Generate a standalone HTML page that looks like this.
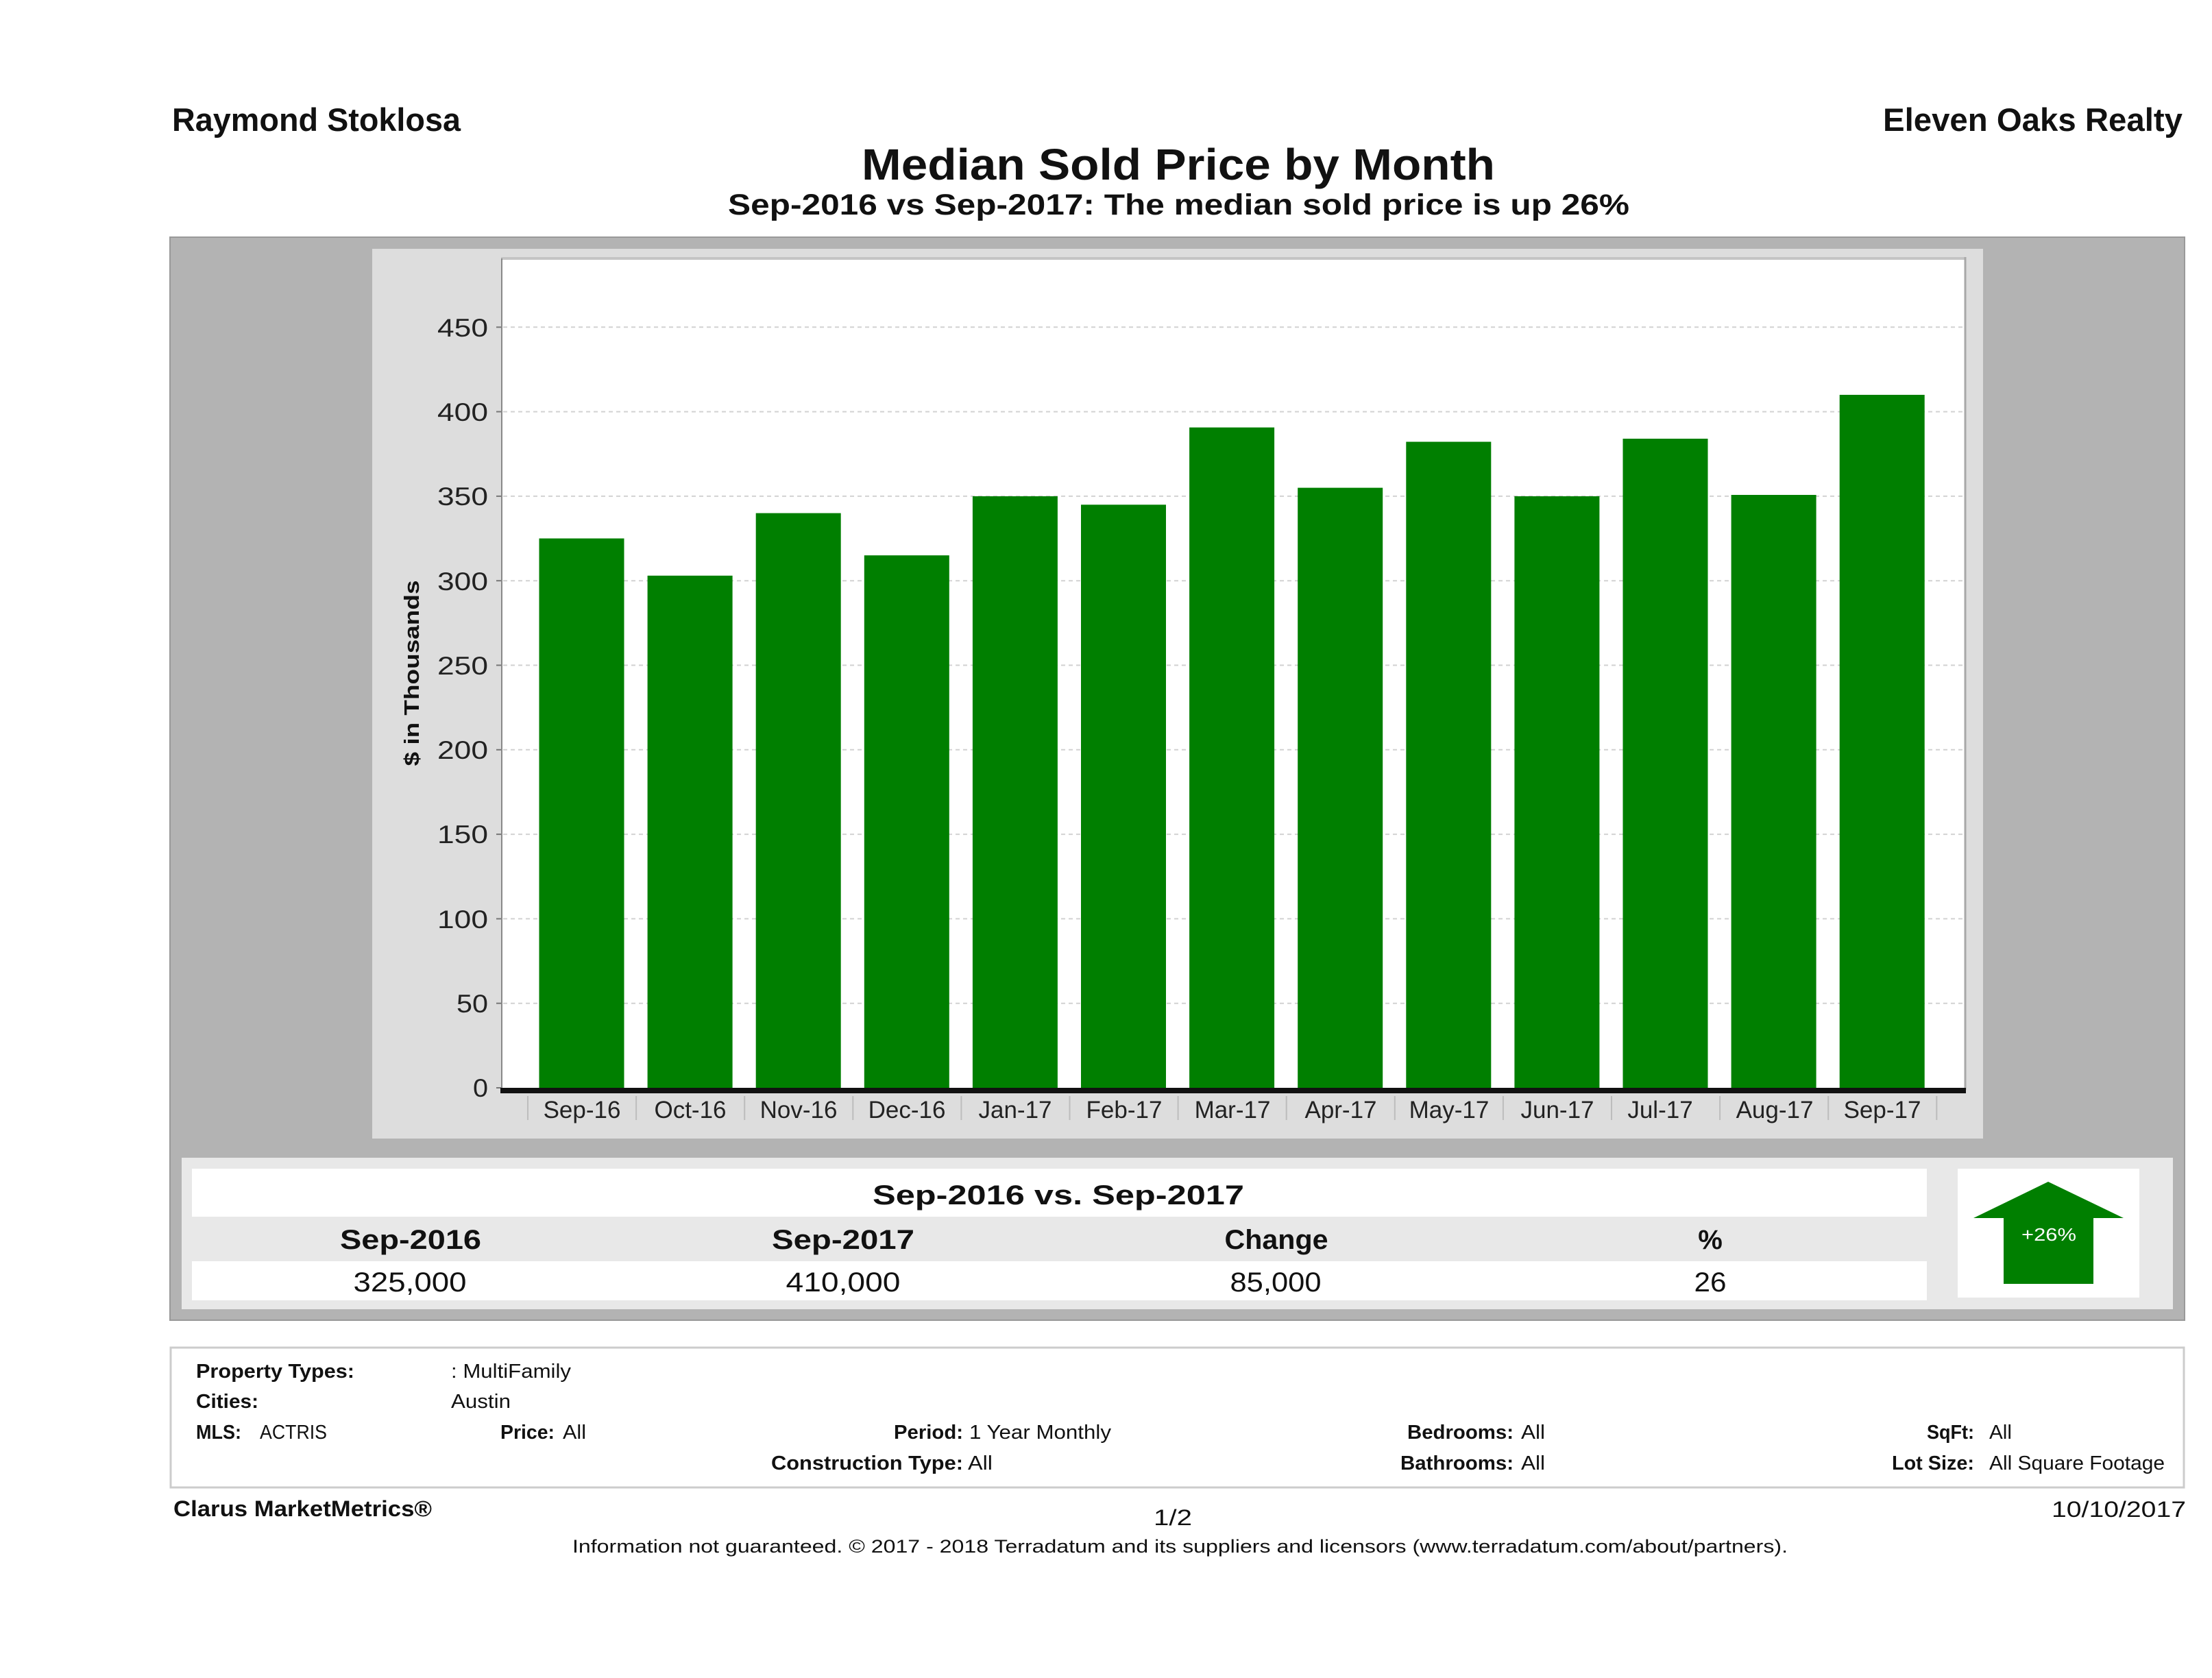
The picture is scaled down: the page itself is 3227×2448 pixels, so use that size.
<!DOCTYPE html>
<html>
<head>
<meta charset="utf-8">
<style>
html,body{margin:0;padding:0;background:#fff;}
svg{display:block;}
text{font-family:"Liberation Sans",Arial,sans-serif;fill:#111;}
.b{font-weight:bold;}
</style>
</head>
<body>
<svg width="3227" height="2448" viewBox="0 0 3227 2448" xmlns="http://www.w3.org/2000/svg">
<rect x="0" y="0" width="3227" height="2448" fill="#fff"/>

<!-- Header -->
<text class="b" x="251" y="191" font-size="47" textLength="421" lengthAdjust="spacingAndGlyphs">Raymond Stoklosa</text>
<text class="b" x="2747" y="191" font-size="47" textLength="437" lengthAdjust="spacingAndGlyphs">Eleven Oaks Realty</text>
<text class="b" x="1257" y="262" font-size="64" textLength="924" lengthAdjust="spacingAndGlyphs">Median Sold Price by Month</text>
<text class="b" x="1062" y="313" font-size="43" textLength="1315" lengthAdjust="spacingAndGlyphs">Sep-2016 vs Sep-2017: The median sold price is up 26%</text>

<!-- Outer gray panel -->
<rect x="248" y="346" width="2939" height="1580" fill="#b3b3b3" stroke="#999" stroke-width="2"/>
<!-- Chart panel -->
<rect x="543" y="363" width="2350" height="1298" fill="#dddddd"/>
<!-- Plot area -->
<rect x="731" y="377" width="2137" height="1210" fill="#ffffff"/>
<line x1="731" y1="377" x2="2868" y2="377" stroke="#c4c4c4" stroke-width="4"/>
<line x1="2867" y1="375" x2="2867" y2="1590" stroke="#a8a8a8" stroke-width="3"/>
<line x1="732" y1="377" x2="732" y2="1590" stroke="#888" stroke-width="2"/>

<!-- Gridlines -->
<g stroke="#d2d2d2" stroke-width="2" stroke-dasharray="6 5">
<line x1="734" y1="1463.7" x2="2865" y2="1463.7"/>
<line x1="734" y1="1340.4" x2="2865" y2="1340.4"/>
<line x1="734" y1="1217.1" x2="2865" y2="1217.1"/>
<line x1="734" y1="1093.8" x2="2865" y2="1093.8"/>
<line x1="734" y1="970.5" x2="2865" y2="970.5"/>
<line x1="734" y1="847.2" x2="2865" y2="847.2"/>
<line x1="734" y1="723.9" x2="2865" y2="723.9"/>
<line x1="734" y1="600.6" x2="2865" y2="600.6"/>
<line x1="734" y1="477.3" x2="2865" y2="477.3"/>
</g>
<!-- Y ticks -->
<g stroke="#777" stroke-width="2">
<line x1="724" y1="1587" x2="731" y2="1587"/>
<line x1="724" y1="1463.7" x2="731" y2="1463.7"/>
<line x1="724" y1="1340.4" x2="731" y2="1340.4"/>
<line x1="724" y1="1217.1" x2="731" y2="1217.1"/>
<line x1="724" y1="1093.8" x2="731" y2="1093.8"/>
<line x1="724" y1="970.5" x2="731" y2="970.5"/>
<line x1="724" y1="847.2" x2="731" y2="847.2"/>
<line x1="724" y1="723.9" x2="731" y2="723.9"/>
<line x1="724" y1="600.6" x2="731" y2="600.6"/>
<line x1="724" y1="477.3" x2="731" y2="477.3"/>
</g>
<!-- Y labels -->
<g font-size="37" text-anchor="end" style="fill:#222">
<text x="712" y="1600" textLength="22" lengthAdjust="spacingAndGlyphs" style="fill:#222">0</text>
<text x="712" y="1477" textLength="46" lengthAdjust="spacingAndGlyphs" style="fill:#222">50</text>
<text x="712" y="1354" textLength="74" lengthAdjust="spacingAndGlyphs" style="fill:#222">100</text>
<text x="712" y="1230" textLength="74" lengthAdjust="spacingAndGlyphs" style="fill:#222">150</text>
<text x="712" y="1107" textLength="74" lengthAdjust="spacingAndGlyphs" style="fill:#222">200</text>
<text x="712" y="984" textLength="74" lengthAdjust="spacingAndGlyphs" style="fill:#222">250</text>
<text x="712" y="861" textLength="74" lengthAdjust="spacingAndGlyphs" style="fill:#222">300</text>
<text x="712" y="737" textLength="74" lengthAdjust="spacingAndGlyphs" style="fill:#222">350</text>
<text x="712" y="614" textLength="74" lengthAdjust="spacingAndGlyphs" style="fill:#222">400</text>
<text x="712" y="491" textLength="74" lengthAdjust="spacingAndGlyphs" style="fill:#222">450</text>
</g>
<!-- Y axis title -->
<text class="b" transform="translate(611,982) rotate(-90)" text-anchor="middle" font-size="31" textLength="271" lengthAdjust="spacingAndGlyphs">$ in Thousands</text>

<!-- Bars -->
<g fill="#007f00">
<rect x="786.5" y="785.5" width="124" height="801.5"/>
<rect x="944.6" y="839.8" width="124" height="747.2"/>
<rect x="1102.7" y="748.6" width="124" height="838.4"/>
<rect x="1260.8" y="810.2" width="124" height="776.8"/>
<rect x="1418.9" y="724.0" width="124" height="863.0"/>
<rect x="1577.0" y="736.3" width="124" height="850.7"/>
<rect x="1735.1" y="623.6" width="124" height="963.4"/>
<rect x="1893.2" y="711.6" width="124" height="875.4"/>
<rect x="2051.3" y="644.5" width="124" height="942.5"/>
<rect x="2209.4" y="724.0" width="124" height="863.0"/>
<rect x="2367.5" y="640.0" width="124" height="947.0"/>
<rect x="2525.6" y="722.0" width="124" height="865.0"/>
<rect x="2683.7" y="576.0" width="124" height="1011.0"/>
</g>

<!-- X axis -->
<rect x="730" y="1587" width="2138" height="8" fill="#111"/>
<g stroke="#bdbdbd" stroke-width="2">
<line x1="770" y1="1599" x2="770" y2="1634"/>
<line x1="928.1" y1="1599" x2="928.1" y2="1634"/>
<line x1="1086.2" y1="1599" x2="1086.2" y2="1634"/>
<line x1="1244.3" y1="1599" x2="1244.3" y2="1634"/>
<line x1="1402.4" y1="1599" x2="1402.4" y2="1634"/>
<line x1="1560.5" y1="1599" x2="1560.5" y2="1634"/>
<line x1="1718.6" y1="1599" x2="1718.6" y2="1634"/>
<line x1="1876.7" y1="1599" x2="1876.7" y2="1634"/>
<line x1="2034.8" y1="1599" x2="2034.8" y2="1634"/>
<line x1="2192.9" y1="1599" x2="2192.9" y2="1634"/>
<line x1="2351" y1="1599" x2="2351" y2="1634"/>
<line x1="2509.1" y1="1599" x2="2509.1" y2="1634"/>
<line x1="2667.2" y1="1599" x2="2667.2" y2="1634"/>
<line x1="2825.3" y1="1599" x2="2825.3" y2="1634"/>
</g>
<g font-size="35" text-anchor="middle">
<text x="849" y="1631" style="fill:#222">Sep-16</text>
<text x="1007" y="1631" style="fill:#222">Oct-16</text>
<text x="1165" y="1631" style="fill:#222">Nov-16</text>
<text x="1323" y="1631" style="fill:#222">Dec-16</text>
<text x="1481" y="1631" style="fill:#222">Jan-17</text>
<text x="1640" y="1631" style="fill:#222">Feb-17</text>
<text x="1798" y="1631" style="fill:#222">Mar-17</text>
<text x="1956" y="1631" style="fill:#222">Apr-17</text>
<text x="2114" y="1631" style="fill:#222">May-17</text>
<text x="2272" y="1631" style="fill:#222">Jun-17</text>
<text x="2422" y="1631" style="fill:#222">Jul-17</text>
<text x="2589" y="1631" style="fill:#222">Aug-17</text>
<text x="2746" y="1631" style="fill:#222">Sep-17</text>
</g>

<!-- Summary panel -->
<rect x="265" y="1689" width="2905" height="221" fill="#e8e8e8"/>
<rect x="280" y="1705" width="2531" height="70" fill="#fff"/>
<rect x="280" y="1840" width="2531" height="57" fill="#fff"/>
<rect x="2856" y="1705" width="265" height="188" fill="#fff"/>

<text class="b" x="1544" y="1757" font-size="40" text-anchor="middle" textLength="542" lengthAdjust="spacingAndGlyphs">Sep-2016 vs. Sep-2017</text>
<text class="b" x="599" y="1822" font-size="40" text-anchor="middle" textLength="206" lengthAdjust="spacingAndGlyphs">Sep-2016</text>
<text class="b" x="1230" y="1822" font-size="40" text-anchor="middle" textLength="208" lengthAdjust="spacingAndGlyphs">Sep-2017</text>
<text class="b" x="1862" y="1822" font-size="40" text-anchor="middle" textLength="151" lengthAdjust="spacingAndGlyphs">Change</text>
<text class="b" x="2495" y="1822" font-size="40" text-anchor="middle">%</text>
<text x="598" y="1884" font-size="40" text-anchor="middle" textLength="165" lengthAdjust="spacingAndGlyphs">325,000</text>
<text x="1230" y="1884" font-size="40" text-anchor="middle" textLength="167" lengthAdjust="spacingAndGlyphs">410,000</text>
<text x="1861" y="1884" font-size="40" text-anchor="middle" textLength="133" lengthAdjust="spacingAndGlyphs">85,000</text>
<text x="2495" y="1884" font-size="40" text-anchor="middle" textLength="47" lengthAdjust="spacingAndGlyphs">26</text>

<!-- Arrow -->
<polygon points="2988,1724 3098,1777 3054,1777 3054,1873 2923,1873 2923,1777 2879,1777" fill="#007f00"/>
<text x="2989" y="1810" font-size="26" text-anchor="middle" textLength="80" lengthAdjust="spacingAndGlyphs" style="fill:#fff">+26%</text>

<!-- Info box -->
<rect x="249" y="1966" width="2937" height="204" fill="#fff" stroke="#cccccc" stroke-width="3"/>
<g font-size="29">
<text class="b" x="286" y="2010" textLength="231" lengthAdjust="spacingAndGlyphs">Property Types:</text>
<text x="658" y="2010" textLength="175" lengthAdjust="spacingAndGlyphs">: MultiFamily</text>
<text class="b" x="286" y="2054" textLength="91" lengthAdjust="spacingAndGlyphs">Cities:</text>
<text x="658" y="2054" textLength="87" lengthAdjust="spacingAndGlyphs">Austin</text>
<text class="b" x="286" y="2099" textLength="66" lengthAdjust="spacingAndGlyphs">MLS:</text>
<text x="379" y="2099" textLength="98" lengthAdjust="spacingAndGlyphs">ACTRIS</text>
<text class="b" x="730" y="2099" textLength="79" lengthAdjust="spacingAndGlyphs">Price:</text>
<text x="821" y="2099" textLength="34" lengthAdjust="spacingAndGlyphs">All</text>
<text class="b" x="1304" y="2099" textLength="101" lengthAdjust="spacingAndGlyphs">Period:</text>
<text x="1414" y="2099" textLength="207" lengthAdjust="spacingAndGlyphs">1 Year Monthly</text>
<text class="b" x="1125" y="2144" textLength="280" lengthAdjust="spacingAndGlyphs">Construction Type:</text>
<text x="1412" y="2144" textLength="36" lengthAdjust="spacingAndGlyphs">All</text>
<text class="b" x="2053" y="2099" textLength="155" lengthAdjust="spacingAndGlyphs">Bedrooms:</text>
<text x="2219" y="2099" textLength="35" lengthAdjust="spacingAndGlyphs">All</text>
<text class="b" x="2043" y="2144" textLength="165" lengthAdjust="spacingAndGlyphs">Bathrooms:</text>
<text x="2219" y="2144" textLength="35" lengthAdjust="spacingAndGlyphs">All</text>
<text class="b" x="2811" y="2099" textLength="69" lengthAdjust="spacingAndGlyphs">SqFt:</text>
<text x="2902" y="2099" textLength="33" lengthAdjust="spacingAndGlyphs">All</text>
<text class="b" x="2760" y="2144" textLength="120" lengthAdjust="spacingAndGlyphs">Lot Size:</text>
<text x="2902" y="2144" textLength="256" lengthAdjust="spacingAndGlyphs">All Square Footage</text>
</g>

<!-- Footer -->
<text class="b" x="253" y="2212" font-size="32" textLength="377" lengthAdjust="spacingAndGlyphs">Clarus MarketMetrics®</text>
<text x="1683" y="2225" font-size="32" textLength="56" lengthAdjust="spacingAndGlyphs">1/2</text>
<text x="2993" y="2213" font-size="32" textLength="196" lengthAdjust="spacingAndGlyphs">10/10/2017</text>
<text x="835" y="2265" font-size="27" textLength="1773" lengthAdjust="spacingAndGlyphs">Information not guaranteed. © 2017 - 2018 Terradatum and its suppliers and licensors (www.terradatum.com/about/partners).</text>
</svg>
</body>
</html>
